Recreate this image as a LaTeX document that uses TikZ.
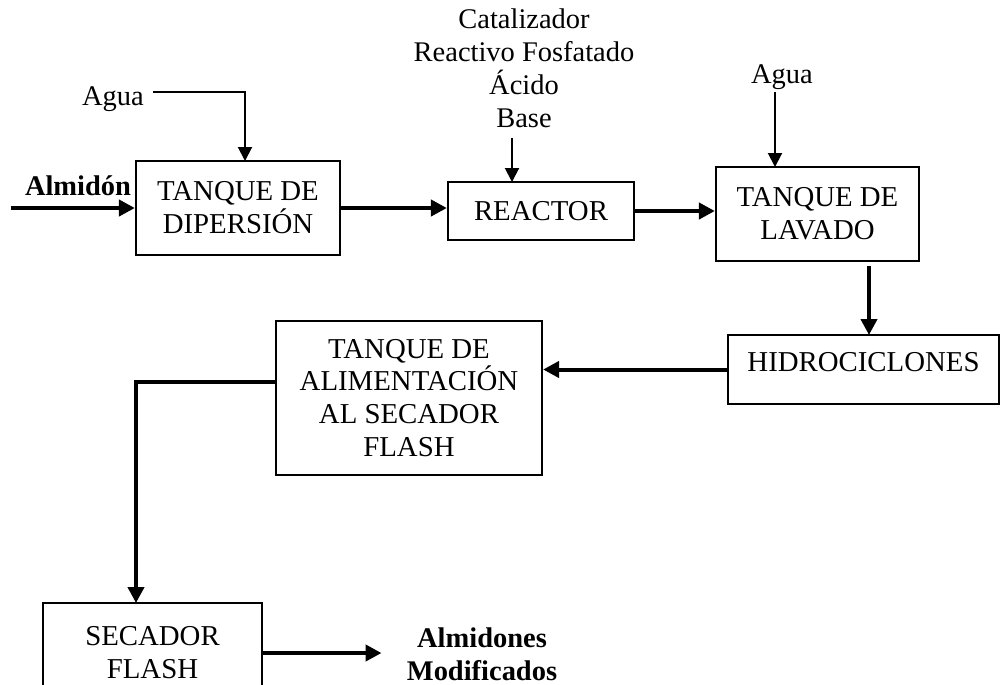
\documentclass[tikz,border=0pt]{standalone}
\usepackage{fontspec}
\setmainfont{Liberation Serif}
\usetikzlibrary{arrows.meta}

\begin{document}
\begin{tikzpicture}[
    x=0.02cm, y=-0.02cm,
    box/.style={rectangle, draw, line width=0.045cm, inner sep=0, align=center, font=\fontsize{16.4}{18.7}\selectfont},
    lbl/.style={inner sep=0.05cm, align=center, font=\fontsize{16.2}{18.7}\selectfont},
    flow/.style={-{Triangle[length=0.32cm, width=0.32cm]}, line width=0.08cm},
    feed/.style={-{Triangle[length=0.28cm, width=0.28cm]}, line width=0.04cm}
]
\useasboundingbox (0,0) rectangle (1000,684);

% Equipment
\node (disp) [box, minimum width=4.08cm, minimum height=1.88cm] at (238,208) {TANQUE DE\\DIPERSIÓN};
\node (reac) [box, minimum width=3.72cm, minimum height=1.16cm] at (541,211) {REACTOR};
\node (lav) [box, minimum width=4.06cm, minimum height=1.88cm] at (817.5,214) {TANQUE DE\\LAVADO};
\node (hidro) [box, minimum width=5.42cm, minimum height=1.38cm, text depth=0.31cm] at (863.5,369.5) {HIDROCICLONES};
\node (alim) [box, minimum width=5.32cm, minimum height=3.08cm] at (409,398) {TANQUE DE\\ALIMENTACIÓN\\AL SECADOR\\FLASH};
\node (sec) [box, minimum width=4.38cm, minimum height=2.0cm] at (152.5,653) {SECADOR\\FLASH};

% Inputs and product
\node (aguaA) [lbl, anchor=base] at (113,105) {Agua};
\node (cat) [lbl, anchor=south, inner sep=0] at (524,128) {Catalizador\\Reactivo Fosfatado\\Ácido\\Base};
\node (aguaB) [lbl, anchor=base] at (782,83) {Agua};
\node (almi) [lbl, anchor=base, font=\fontsize{16.2}{18.7}\selectfont\bfseries] at (78,195) {Almidón};
\node (prod) [lbl, anchor=south, inner sep=0, font=\fontsize{16.2}{18.7}\selectfont\bfseries] at (482,681) {Almidones\\Modificados};

\coordinate (almin) at (11,208);
\coordinate (dispin) at (245,161);
\coordinate (reacin) at (512,182);
\coordinate (lavin) at (775,167);
\coordinate (hidroin) at (869,335);
\coordinate (secin) at (136,603);

% Main flow
\draw[flow] (almin) -- (disp.west);
\draw[flow] (disp.east) -- (disp.east -| reac.west);
\draw[flow] (reac.east) -- (reac.east -| lav.west);
\draw[flow, shorten <=0.08cm] (lav.south -| hidroin) -- (hidroin);
\draw[flow] (hidro.west) -- (hidro.west -| alim.east);
\draw[flow] ([yshift=0.32cm]alim.west) -| (secin);
\draw[flow, shorten >=0.5cm] (sec.east) -- (prod.west |- sec.east);

% Feeds
\draw[feed, shorten <=0.13cm] ([yshift=0.134cm]aguaA.east) -| (dispin);
\draw[feed, shorten <=0.2cm] (cat.south -| reacin) -- (reacin);
\draw[feed] (aguaB.south -| lavin) -- (lavin);

\end{tikzpicture}
\end{document}
